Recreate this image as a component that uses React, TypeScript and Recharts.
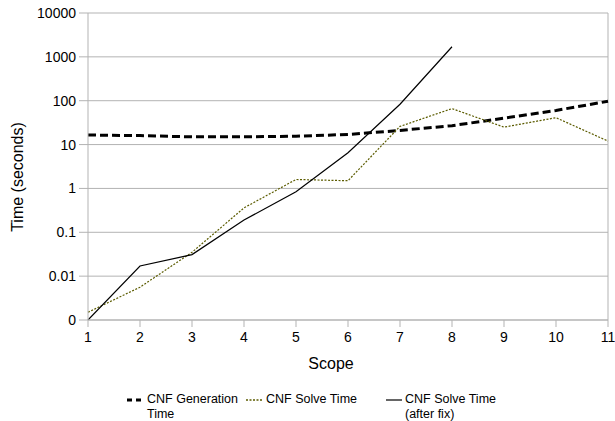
import {
  LineChart,
  Line,
  XAxis,
  YAxis,
  CartesianGrid,
  ReferenceLine,
} from 'recharts';

const scope = [1, 2, 3, 4, 5, 6, 7, 8, 9, 10, 11];
const generationTime = [16.5, 16, 15, 15, 15.5, 17, 21, 27, 40, 60, 97];
const solveTime = [0.0015, 0.0056, 0.035, 0.36, 1.6, 1.5, 26, 66, 25, 41, 12];
const solveTimeFixed = [0.001, 0.017, 0.031, 0.19, 0.84, 6.5, 83, 1700, null, null, null];
const yTicks = [0.001, 0.01, 0.1, 1, 10, 100, 1000, 10000];
const yTickLabels = ['0', '0.01', '0.1', '1', '10', '100', '1000', '10000'];

const data = scope.map((s, i) => ({
  scope: s,
  gen: generationTime[i],
  solve: solveTime[i],
  fixed: solveTimeFixed[i],
}));

const FONT = '"Liberation Sans", Arial, sans-serif';
const GRID = '#b3b3b3';
const OLIVE = '#5c5c00';

function LegendIcon({ kind }: { kind: string }) {
  if (kind === 'gen') {
    return (
      <svg width={17} height={10}>
        <line x1={0} y1={5} x2={17} y2={5} stroke="#000" strokeWidth={3} strokeDasharray="5 4" />
      </svg>
    );
  }
  if (kind === 'solve') {
    return (
      <svg width={17} height={10}>
        <line x1={0} y1={5} x2={17} y2={5} stroke={OLIVE} strokeWidth={1.3} strokeDasharray="2 1.5" />
      </svg>
    );
  }
  return (
    <svg width={16} height={10}>
      <line x1={0} y1={5} x2={16} y2={5} stroke="#000" strokeWidth={1.2} />
    </svg>
  );
}

const legendItems = [
  { kind: 'gen', left: 127, lines: ['CNF Generation', 'Time'] },
  { kind: 'solve', left: 246, lines: ['CNF Solve Time'] },
  { kind: 'fixed', left: 386, lines: ['CNF Solve Time', '(after fix)'] },
];

function ChartLegend() {
  return (
    <div style={{ fontFamily: FONT, fontSize: 12.5, color: '#000' }}>
      {legendItems.map((item) => (
        <div
          key={item.kind}
          style={{ position: 'absolute', left: item.left, top: 392, display: 'flex', alignItems: 'flex-start' }}
        >
          <div style={{ marginTop: 2, marginRight: 3, height: 10 }}>
            <LegendIcon kind={item.kind} />
          </div>
          <div style={{ lineHeight: '15px', whiteSpace: 'nowrap' }}>
            {item.lines.map((l) => (
              <div key={l}>{l}</div>
            ))}
          </div>
        </div>
      ))}
    </div>
  );
}

function YTitle() {
  return (
    <text
      x={17}
      y={177}
      transform="rotate(-90, 17, 177)"
      textAnchor="middle"
      dominantBaseline="central"
      fontSize={16}
      fill="#000"
      fontFamily={FONT}
    >
      Time (seconds)
    </text>
  );
}

function XTitle() {
  return (
    <text
      x={331}
      y={363}
      textAnchor="middle"
      dominantBaseline="central"
      fontSize={16}
      fill="#000"
      fontFamily={FONT}
    >
      Scope
    </text>
  );
}

export default function App() {
  return (
    <div style={{ position: 'absolute', left: 0, top: 0, width: 615, height: 421, background: '#fff' }}>
      <LineChart
        width={615}
        height={421}
        data={data}
        margin={{ top: 13, right: 7, left: 0, bottom: 71 }}
        style={{ fontFamily: FONT }}
      >
        <CartesianGrid vertical={false} stroke={GRID} strokeWidth={1} />
        <ReferenceLine x={11} stroke={GRID} />
        <XAxis
          dataKey="scope"
          type="number"
          domain={[1, 11]}
          ticks={scope}
          height={30}
          stroke={GRID}
          tickSize={7}
          tickMargin={5}
          tick={{ fontSize: 14, fill: '#000' }}
          label={<XTitle />}
          interval={0}
        />
        <YAxis
          scale="log"
          domain={[0.001, 10000]}
          ticks={yTicks}
          allowDataOverflow
          width={88}
          stroke={GRID}
          tickSize={9}
          tickMargin={3}
          tick={{ fontSize: 14, fill: '#000' }}
          tickFormatter={(v: number) => yTickLabels[yTicks.indexOf(v)] ?? String(v)}
          interval={0}
          label={<YTitle />}
        />
        <Line
          dataKey="gen"
          stroke="#000"
          strokeWidth={3}
          strokeDasharray="8 4"
          dot={false}
          isAnimationActive={false}
        />
        <Line
          dataKey="solve"
          stroke={OLIVE}
          strokeWidth={1.2}
          strokeDasharray="2 1.5"
          dot={false}
          isAnimationActive={false}
        />
        <Line
          dataKey="fixed"
          stroke="#000"
          strokeWidth={1.2}
          dot={false}
          connectNulls={false}
          isAnimationActive={false}
        />
      </LineChart>
      <ChartLegend />
    </div>
  );
}
